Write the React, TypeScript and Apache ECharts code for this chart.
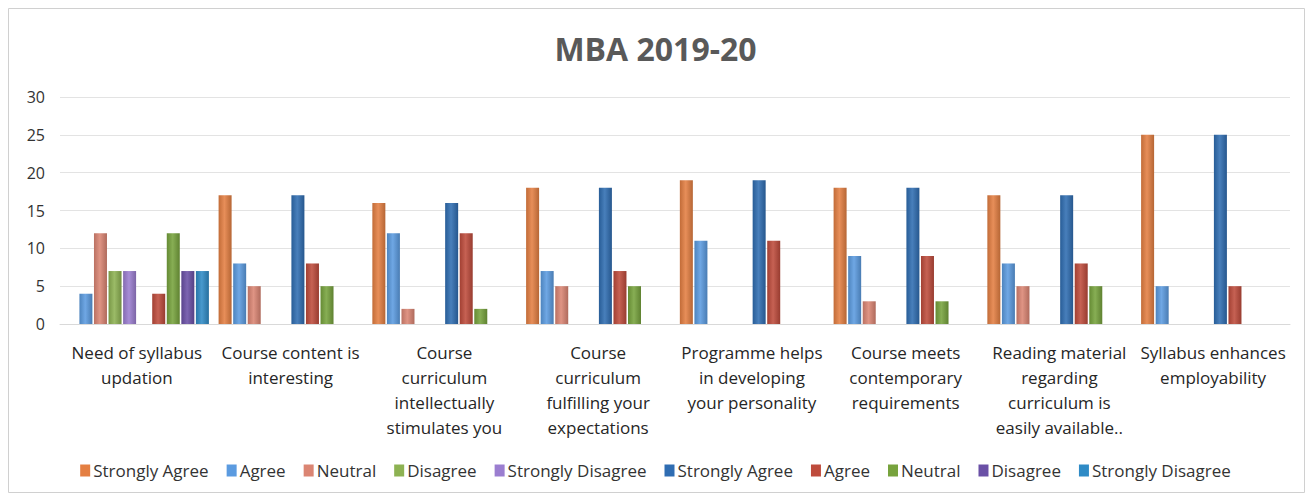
import React, { useEffect, useRef } from "react";
import * as echarts from "echarts";

const categories = [
  "Need of syllabus\nupdation",
  "Course content is\ninteresting",
  "Course\ncurriculum\nintellectually\nstimulates you",
  "Course\ncurriculum\nfulfilling your\nexpectations",
  "Programme helps\nin developing\nyour personality",
  "Course meets\ncontemporary\nrequirements",
  "Reading material\nregarding\ncurriculum is\neasily available..",
  "Syllabus enhances\nemployability",
];

const yTicks = [0, 5, 10, 15, 20, 25, 30];

const seriesNames = ["Strongly Agree", "Agree", "Neutral", "Disagree", "Strongly Disagree"];

const g1StronglyAgree = [0, 17, 16, 18, 19, 18, 17, 25];
const g1Agree = [4, 8, 12, 7, 11, 9, 8, 5];
const g1Neutral = [12, 5, 2, 5, 0, 3, 5, 0];
const g1Disagree = [7, 0, 0, 0, 0, 0, 0, 0];
const g1StronglyDisagree = [7, 0, 0, 0, 0, 0, 0, 0];

const g2StronglyAgree = [0, 17, 16, 18, 19, 18, 17, 25];
const g2Agree = [4, 8, 12, 7, 11, 9, 8, 5];
const g2Neutral = [12, 5, 2, 5, 0, 3, 5, 0];
const g2Disagree = [7, 0, 0, 0, 0, 0, 0, 0];
const g2StronglyDisagree = [7, 0, 0, 0, 0, 0, 0, 0];

const group1Colors = ["#E47F42", "#5B9BE0", "#DB8573", "#8DB252", "#9B7ED0"];
const group2Colors = ["#2F6DB2", "#BE4B3C", "#77A33D", "#6A50A6", "#2F8BC6"];

function shade(hex: string, f: number) {
  const n = parseInt(hex.slice(1), 16);
  const ch = (v: number) => Math.max(0, Math.min(255, Math.round(f >= 0 ? v + (255 - v) * f : v * (1 + f))));
  const r = ch((n >> 16) & 255), g = ch((n >> 8) & 255), b = ch(n & 255);
  return `rgb(${r},${g},${b})`;
}

function cyl(hex: string) {
  return new echarts.graphic.LinearGradient(0, 0, 1, 0, [
    { offset: 0, color: shade(hex, -0.15) },
    { offset: 0.45, color: shade(hex, 0.12) },
    { offset: 1, color: shade(hex, -0.2) },
  ]);
}

export default function App() {
  const ref = useRef<HTMLDivElement>(null);
  useEffect(() => {
    if (!ref.current) return;
    const chart = echarts.init(ref.current, undefined, { renderer: "svg" });
    const groups = [
      [g1StronglyAgree, g1Agree, g1Neutral, g1Disagree, g1StronglyDisagree],
      [g2StronglyAgree, g2Agree, g2Neutral, g2Disagree, g2StronglyDisagree],
    ];
    const series: any[] = [];
    const legendData: any[] = [];
    groups.forEach((g, gi) => {
      g.forEach((vals, si) => {
        const color = (gi === 0 ? group1Colors : group2Colors)[si];
        const name = gi === 0 ? seriesNames[si] : seriesNames[si] + " (2)";
        legendData.push({ name, itemStyle: { color } });
        series.push({
          name,
          type: "bar",
          data: vals,
          barWidth: 13,
          barGap: "12%",
          itemStyle: { color: cyl(color) },
        });
      });
    });
    chart.setOption({
      animation: false,
      backgroundColor: "#ffffff",
      title: {
        text: "MBA 2019-20",
        left: "center",
        top: 27,
        textStyle: { fontFamily: "Open Sans", fontWeight: "bold", fontSize: 32, color: "#595959" },
      },
      legend: {
        data: legendData,
        left: "center",
        top: 457,
        itemWidth: 10,
        itemHeight: 12,
        itemGap: 18,
        icon: "rect",
        formatter: (n: string) => n.replace(" (2)", ""),
        textStyle: { fontFamily: "Open Sans", fontSize: 17, color: "#333333", padding: [0, 0, 0, -2] },
      },
      grid: { left: 60, right: 21, top: 97, bottom: 175, containLabel: false },
      xAxis: {
        type: "category",
        data: categories,
        axisLine: { lineStyle: { color: "#D9D9D9" } },
        axisTick: { show: false },
        axisLabel: {
          interval: 0,
          margin: 16,
          lineHeight: 25,
          fontFamily: "Open Sans",
          fontSize: 17,
          color: "#262626",
        },
      },
      yAxis: {
        type: "value",
        min: yTicks[0],
        max: yTicks[yTicks.length - 1],
        interval: 5,
        axisLine: { show: false },
        axisTick: { show: false },
        splitLine: { lineStyle: { color: "#E3E3E3" } },
        axisLabel: { margin: 15, fontFamily: "Open Sans", fontSize: 16, color: "#333333" },
      },
      graphic: [
        {
          type: "rect",
          shape: { x: 8.5, y: 8.5, width: 1296, height: 484 },
          style: { fill: "none", stroke: "#D0D0D0", lineWidth: 1 },
          silent: true,
        },
      ],
      series,
    });
    return () => chart.dispose();
  }, []);
  return <div ref={ref} style={{ position: "fixed", left: 0, top: 0, width: 1311, height: 499 }} />;
}
